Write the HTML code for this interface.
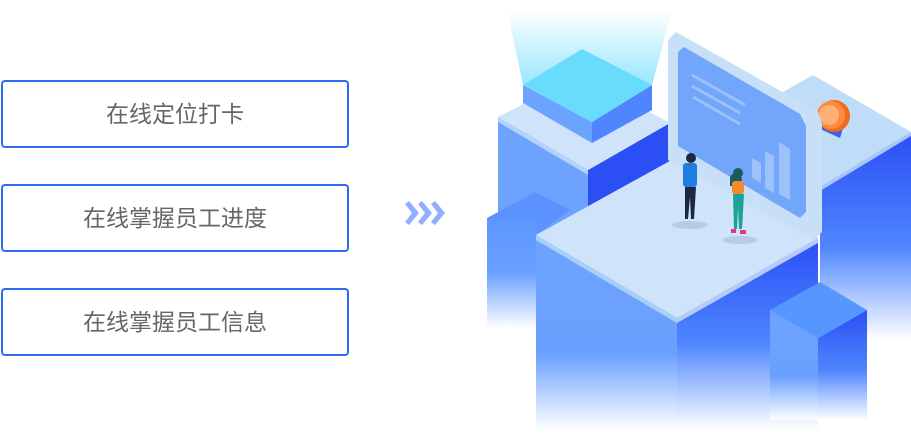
<!DOCTYPE html>
<html><head><meta charset="utf-8"><style>
html,body{margin:0;padding:0;background:#fff;width:911px;height:435px;overflow:hidden;position:relative;font-family:"Liberation Sans","Noto Sans CJK SC",sans-serif}
.b{position:absolute;left:1px;width:344px;height:64px;border:2px solid #2e6bf5;border-radius:4px;box-sizing:content-box;text-align:center;line-height:64px;font-size:23px;color:#666}
svg{position:absolute;left:0;top:0}
</style></head><body>
<div class="b" style="top:80px">在线定位打卡</div>
<div class="b" style="top:184px">在线掌握员工进度</div>
<div class="b" style="top:288px">在线掌握员工信息</div>
<svg width="911" height="435" viewBox="0 0 911 435">
<defs>
<linearGradient id="fl" x1="0" y1="0" x2="0" y2="1"><stop offset="0" stop-color="#6ea2ff"/><stop offset="0.6" stop-color="#6aa0ff"/><stop offset="1" stop-color="#fff"/></linearGradient>
<linearGradient id="fd" x1="0" y1="0" x2="0" y2="1"><stop offset="0" stop-color="#2a4ef5"/><stop offset="0.55" stop-color="#4f86ff"/><stop offset="1" stop-color="#fff"/></linearGradient>
<linearGradient id="fl2" x1="0" y1="0" x2="0" y2="1"><stop offset="0" stop-color="#5d96ff"/><stop offset="0.5" stop-color="#6aa0ff"/><stop offset="1" stop-color="#fff"/></linearGradient>
<linearGradient id="beam" x1="0" y1="0" x2="0" y2="1"><stop offset="0" stop-color="#fff"/><stop offset="1" stop-color="#7fe0ff"/></linearGradient>
</defs>
<g fill="#8fb0ff">
<path d="M405 204l4-3 10 12-10 12-4-3 7-9z"/>
<path d="M418 204l4-3 10 12-10 12-4-3 7-9z"/>
<path d="M431 204l4-3 10 12-10 12-4-3 7-9z"/>
</g>
<!-- left back block -->
<rect x="498" y="122" width="90" height="120" fill="#6ea2ff"/>
<polygon points="588,170 670,123 670,230 588,250" fill="#2c4ff5"/>
<polygon points="498,117 580,75 670,123 588,170" fill="#cfe3fb"/>
<polygon points="498,117 588,170 588,175 498,122" fill="#b3d3f8"/>
<!-- far left block -->
<polygon points="487,218 535,192 570,210 536,235" fill="#5b92ff"/>
<rect x="487" y="218" width="50" height="110" fill="url(#fl2)"/>
<!-- beam -->
<polygon points="507,10 672,10 652,85 523,85" fill="url(#beam)" opacity="0.8"/>
<!-- cube -->
<polygon points="523,85 592,122 592,143 523,103" fill="#6ba4ff"/>
<polygon points="592,122 652,85 652,110 592,143" fill="#4f86ff"/>
<polygon points="523,85 582,49 652,85 592,122" fill="#69dcfd"/>
<!-- right back block -->
<polygon points="820,187 911,132 911,340 820,340" fill="url(#fd)"/>
<polygon points="760,105 813,75 911,132 820,187" fill="#bfdcf8"/>
<polygon points="820,187 911,132 911,136 820,191" fill="#a9c6f6"/>
<polygon points="821,118 843,128 840,138 818,128" fill="#3a5cf0"/>
<circle cx="834" cy="116" r="16" fill="#f26a1b"/>
<circle cx="831" cy="115" r="14" fill="#ff8a3d"/>
<circle cx="829" cy="115" r="10" fill="#ffb077"/>
<!-- big block -->
<rect x="536" y="240" width="141" height="190" fill="url(#fl)"/>
<polygon points="677,318 818,238 818,430 677,430" fill="url(#fd)"/>
<polygon points="536,235 677,157 818,238 677,318" fill="#cfe3fb"/>
<polygon points="536,235 677,318 677,323 536,240" fill="#a6d0f8"/>
<polygon points="677,318 818,238 818,243 677,323" fill="#b7c9f6"/>
<!-- screen -->
<polygon points="668,40 676,32 818,112 822,124 822,232 814,240 668,160" fill="#c7e0f7"/>
<polygon points="678,52 684,47 800,114 806,126 806,212 800,218 678,146" fill="#72a6fb"/>
<g stroke="#9cc1fb" stroke-width="3"><line x1="692" y1="75" x2="745" y2="105"/><line x1="692" y1="86" x2="740" y2="113"/><line x1="693" y1="97" x2="740" y2="124"/></g>
<g fill="#9cc1fb"><polygon points="752,158 761,163 761,183 752,178"/><polygon points="765,151 774,156 774,193 765,188"/><polygon points="779,142 790,149 790,200 779,194"/></g>
<!-- people -->
<ellipse cx="690" cy="225" rx="18" ry="4" fill="#b6cdea"/>
<ellipse cx="740" cy="240" rx="18" ry="4" fill="#b6cdea"/>
<circle cx="691" cy="158" r="5" fill="#1d2740"/>
<rect x="683" y="163" width="14" height="24" rx="3" fill="#1e7ee0"/>
<path d="M685 187h11l-2 32h-3l-1-22-2 22h-3z" fill="#1d2740"/>
<circle cx="738" cy="173" r="5" fill="#1e5a57"/>
<path d="M730 178c0-6 12-6 12 2l-4 6h-8z" fill="#1e5a57"/>
<rect x="732" y="181" width="12" height="13" rx="3" fill="#f5882a"/>
<path d="M733 194h11l-2 35h-3l-1-22-1 22h-3z" fill="#1aa396"/>
<rect x="731" y="229" width="5" height="4" fill="#e8357a"/><rect x="740" y="230" width="6" height="4" fill="#e8357a"/>
<!-- small front right block -->
<rect x="770" y="310" width="48" height="110" fill="url(#fl)"/>
<polygon points="818,338 867,310 867,420 818,420" fill="url(#fd)"/>
<polygon points="770,310 820,282 867,310 818,338" fill="#5596ff"/>
</svg>
</body></html>
